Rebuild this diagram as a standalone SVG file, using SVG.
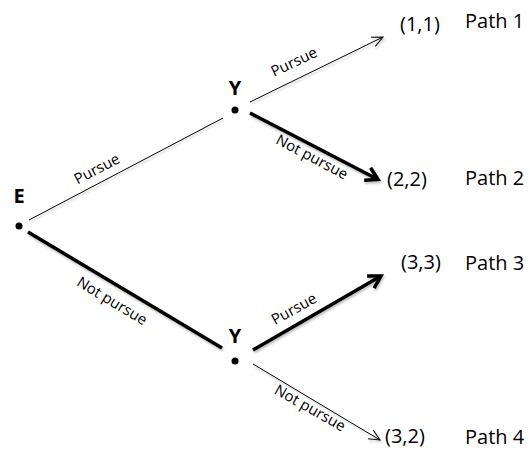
<svg xmlns="http://www.w3.org/2000/svg" width="530" height="450" viewBox="0 0 530 450">
<style>
.dot{fill:#000}
.nl{font-family:"Open Sans","Noto Sans",sans-serif;font-weight:bold;font-size:20px;text-anchor:middle;fill:#000}
.el{font-family:"Open Sans","Noto Sans",sans-serif;font-size:15px;text-anchor:middle;fill:#000}
.pt{font-family:"Open Sans","Noto Sans",sans-serif;font-size:20px;fill:#000}
.thin{stroke:#000;stroke-width:1;fill:none}
.thick{stroke:#000;stroke-width:3.5;fill:none}
</style>
<defs>
<filter id="sh" x="-10%" y="-10%" width="120%" height="130%">
<feDropShadow dx="1" dy="2" stdDeviation="1" flood-color="#000" flood-opacity="0.25"/>
</filter>
<marker id="aThin" markerUnits="userSpaceOnUse" viewBox="-14 -8 16 16" refX="0" refY="0" markerWidth="16" markerHeight="16" orient="auto">
<path d="M-11,-5 L0,0 L-11,5" fill="none" stroke="#000" stroke-width="1"/>
</marker>
<marker id="aThick" markerUnits="userSpaceOnUse" viewBox="-16 -10 20 20" refX="0" refY="0" markerWidth="20" markerHeight="20" orient="auto">
<path d="M-12,-7 L0,0 L-12,7" fill="none" stroke="#000" stroke-width="3.5" stroke-linejoin="miter" stroke-miterlimit="10"/>
</marker>
</defs>
<g id="connectors" filter="url(#sh)">
<line class="thin" x1="29" y1="220" x2="223" y2="118"/>
<line class="thick" x1="28" y1="232" x2="222" y2="348"/>
<line class="thin" x1="250" y1="102" x2="383" y2="37" marker-end="url(#aThin)"/>
<line class="thick" x1="250" y1="113" x2="378" y2="179.5" marker-end="url(#aThick)"/>
<line class="thick" x1="253" y1="350" x2="381" y2="276" marker-end="url(#aThick)"/>
<line class="thin" x1="253" y1="364" x2="380" y2="440" marker-end="url(#aThin)"/>
</g>
<g id="edge-labels">
<text class="el" transform="translate(97,169) rotate(-27.5)" y="5">Pursue</text>
<text class="el" transform="translate(112,301) rotate(31)" y="5">Not pursue</text>
<text class="el" transform="translate(294,62) rotate(-25.3)" y="5">Pursue</text>
<text class="el" transform="translate(312,157) rotate(27.8)" y="5">Not pursue</text>
<text class="el" transform="translate(294,309) rotate(-29)" y="5">Pursue</text>
<text class="el" transform="translate(310,408) rotate(29.6)" y="5">Not pursue</text>
</g>
<g id="node-E">
<circle class="dot" cx="19" cy="226" r="3.5"/>
<text class="nl" x="19" y="203">E</text>
</g>
<g id="node-Y1">
<circle class="dot" cx="235" cy="110" r="3.5"/>
<text class="nl" x="235" y="95">Y</text>
</g>
<g id="node-Y2">
<circle class="dot" cx="235" cy="361" r="3.5"/>
<text class="nl" x="235" y="343">Y</text>
</g>
<g id="outcome-1">
<text class="pt" x="400" y="31">(1,1)</text>
<text class="pt" x="465" y="28">Path 1</text>
</g>
<g id="outcome-2">
<text class="pt" x="387" y="186">(2,2)</text>
<text class="pt" x="465" y="185">Path 2</text>
</g>
<g id="outcome-3">
<text class="pt" x="401" y="269">(3,3)</text>
<text class="pt" x="465" y="270">Path 3</text>
</g>
<g id="outcome-4">
<text class="pt" x="385" y="443">(3,2)</text>
<text class="pt" x="465" y="444">Path 4</text>
</g>
</svg>
